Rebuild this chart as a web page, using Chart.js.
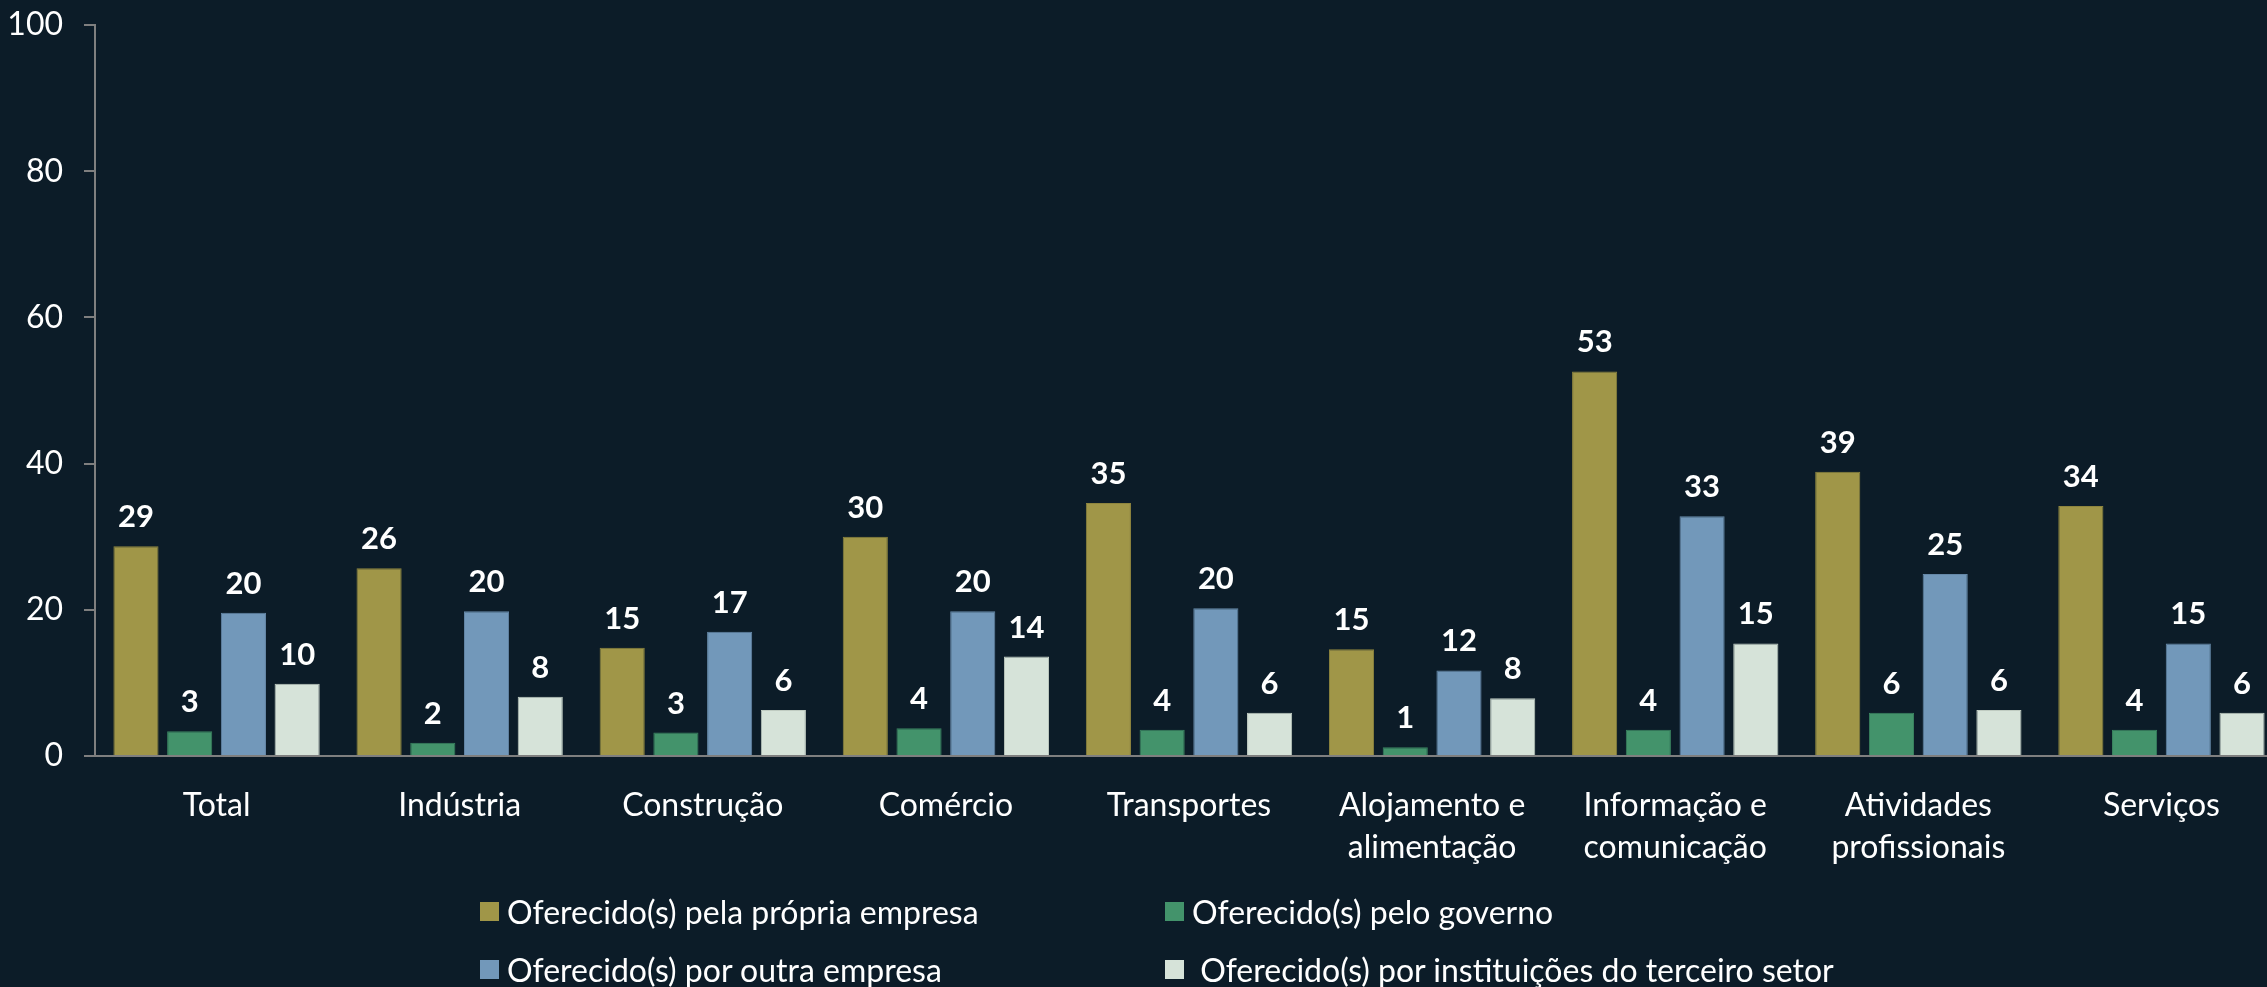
<!DOCTYPE html>
<html>
<head>
<meta charset="utf-8">
<script src="https://cdn.jsdelivr.net/npm/chart.js@4/dist/chart.umd.min.js"></script>
<style>
  html, body { margin: 0; padding: 0; background: #0C1C28; overflow: hidden; width: 2267px; height: 987px; }
  #wrap { position: absolute; left: 0; top: 0; width: 2300px; height: 987px; }
  #legend { position: absolute; left: 0; top: 0; width: 2267px; height: 987px; pointer-events: none;
            font-family: Lato, sans-serif; font-size: 32px; color: #FFFFFF; }
  .li { position: absolute; display: flex; align-items: center; white-space: pre; }
  .sw { width: 19px; height: 19px; margin-right: 8px; flex: none; }
</style>
</head>
<body>
<div id="wrap"><canvas id="c"></canvas></div>
<div id="legend"></div>
<script>
const categories = ['Total', 'Indústria', 'Construção', 'Comércio', 'Transportes',
  ['Alojamento e', 'alimentação'], ['Informação e', 'comunicação'], ['Atividades', 'profissionais'], 'Serviços'];
const seriesNames = ['Oferecido(s) pela própria empresa', 'Oferecido(s) pelo governo',
  'Oferecido(s) por outra empresa', ' Oferecido(s) por instituições do terceiro setor'];
const propriaEmpresa = [28.7, 25.7, 14.8, 30.0, 34.6, 14.6, 52.6, 38.9, 34.2];
const governo = [3.4, 1.8, 3.2, 3.8, 3.6, 1.2, 3.6, 5.9, 3.6];
const outraEmpresa = [19.6, 19.8, 17.0, 19.8, 20.2, 11.7, 32.8, 24.9, 15.4];
const terceiroSetor = [9.9, 8.1, 6.3, 13.6, 5.9, 7.9, 15.4, 6.3, 5.9];
const yTicks = [0, 20, 40, 60, 80, 100];

const colors = ['#A09648', '#43936B', '#7298BA', '#D6E3D9'];
const borders = ['#8E853E', '#3A8460', '#6588A8', '#BFCBC1'];
const seriesData = [propriaEmpresa, governo, outraEmpresa, terceiroSetor];

const FONT = 'Lato, sans-serif';
const AXIS = '#7F7F7F';

const valueLabels = {
  id: 'valueLabels',
  afterDatasetsDraw(chart) {
    const ctx = chart.ctx;
    ctx.save();
    ctx.font = 'bold 31px ' + FONT;
    ctx.fillStyle = '#FFFFFF';
    ctx.textAlign = 'center';
    ctx.textBaseline = 'alphabetic';
    chart.data.datasets.forEach((ds, di) => {
      const meta = chart.getDatasetMeta(di);
      meta.data.forEach((el, i) => {
        ctx.fillText(String(Math.round(ds.data[i])), el.x, el.y - 19);
      });
    });
    ctx.restore();
  }
};

new Chart(document.getElementById('c'), {
  type: 'bar',
  data: {
    labels: categories,
    datasets: seriesNames.map((n, i) => ({
      label: n,
      data: seriesData[i],
      backgroundColor: colors[i],
      borderColor: borders[i],
      borderWidth: 1,
      categoryPercentage: 0.884,
      barPercentage: 0.84
    }))
  },
  options: {
    responsive: true,
    maintainAspectRatio: false,
    animation: false,
    layout: { padding: { top: 25, right: 17, bottom: 121, left: 0 } },
    plugins: { legend: { display: false }, tooltip: { enabled: false } },
    scales: {
      x: {
        grid: { display: false },
        border: { display: true, color: AXIS, width: 2 },
        ticks: { color: '#FFFFFF', font: { family: FONT, size: 32, lineHeight: 1.325 }, padding: 20, maxRotation: 0, autoSkip: false },
        afterFit(scale) { scale.height = 110; scale.paddingLeft = 0; scale.paddingRight = 0; }
      },
      y: {
        min: 0, max: 100,
        afterBuildTicks(scale) { scale.ticks = yTicks.map(v => ({ value: v })); },
        grid: { display: true, drawOnChartArea: false, drawTicks: true, tickLength: 11, color: AXIS, lineWidth: 2 },
        border: { display: true, color: AXIS, width: 2 },
        ticks: { color: '#FFFFFF', font: { family: FONT, size: 32 }, padding: 21 },
        afterFit(scale) { scale.width = 95; scale.paddingTop = 0; scale.paddingBottom = 0; }
      }
    }
  },
  plugins: [valueLabels]
});

// legend (2 x 2 grid)
const legendEl = document.getElementById('legend');
const colX = [480, 1165];
const rowY = [911, 969];
seriesNames.forEach((n, i) => {
  const d = document.createElement('div');
  d.className = 'li';
  d.style.left = colX[i % 2] + 'px';
  d.style.top = (rowY[Math.floor(i / 2)] - 22) + 'px';
  d.style.height = '44px';
  const sw = document.createElement('span');
  sw.className = 'sw';
  sw.style.background = colors[i];
  const t = document.createElement('span');
  t.textContent = n;
  d.appendChild(sw); d.appendChild(t);
  legendEl.appendChild(d);
});
</script>
</body>
</html>
